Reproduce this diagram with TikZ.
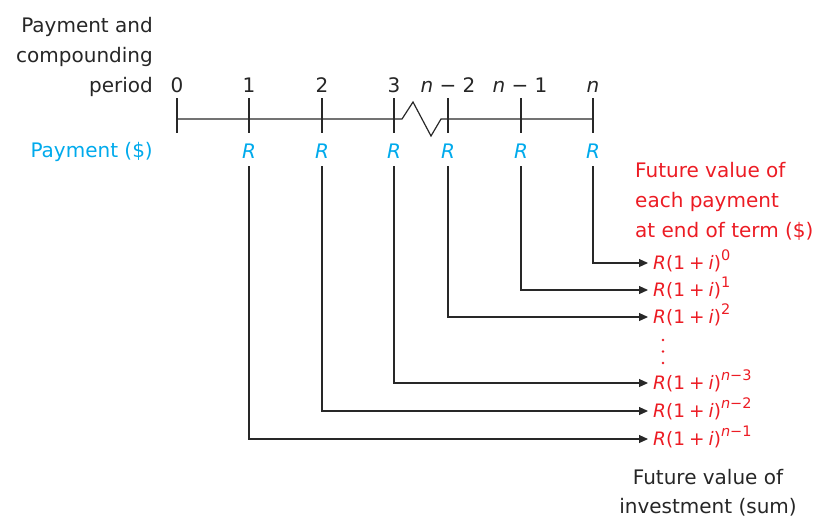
\documentclass[tikz,border=0pt]{standalone}
\usepackage{fontspec}
\setmainfont{DejaVu Sans}
\usetikzlibrary{arrows.meta}
\definecolor{pblue}{RGB}{0,170,236}
\definecolor{fred}{RGB}{236,28,36}
\definecolor{lgray}{RGB}{40,40,40}
\newcommand{\fv}[1]{\textit{R}(1\hspace{0.22em}+\hspace{0.22em}\textit{i})\raisebox{0.5em}{\fontsize{14.5}{14.5}\selectfont #1}}
\begin{document}
\begin{tikzpicture}[x=1pt,y=-1pt,
  txt/.style={font=\fontsize{20}{30}\selectfont, text=black!85, inner sep=0pt},
  num/.style={txt, anchor=base},
  rlab/.style={font=\fontsize{20}{30}\selectfont\itshape, text=pblue, inner sep=0pt, anchor=base},
  fvlab/.style={font=\fontsize{18.5}{30}\selectfont, text=fred, anchor=west, inner xsep=5pt, inner ysep=0pt, text height=14pt, text depth=1pt},
  axis/.style={draw=lgray, line width=1.2pt},
  conn/.style={draw=lgray, line width=1.2pt, -{Triangle[length=9pt,width=8pt]}}
]
\useasboundingbox (0,0) rectangle (816,520);

% timeline coordinates
\coordinate (t0) at (177,119);
\coordinate (t1) at (249,119);
\coordinate (t2) at (322,119);
\coordinate (t3) at (394,119);
\coordinate (tm2) at (448,119);
\coordinate (tm1) at (521,119);
\coordinate (tn) at (593,119);
\coordinate (z1) at (402,119);
\coordinate (z2) at (413,102);
\coordinate (z3) at (431,136);
\coordinate (z4) at (441,119);

\draw[axis] (t0) -- (t3) -- (z1) -- (z2) -- (z3) -- (z4) -- (tm2) -- (tn);
\foreach \t in {t0,t1,t2,t3,tm2,tm1,tn}
  \draw[axis] ([yshift=21pt]\t) -- ([yshift=-14pt]\t);

% period labels
\node[num] (n0) at (177,92) {0};
\node[num] (n1) at (249,92) {1};
\node[num] (n2) at (322,92) {2};
\node[num] (n3) at (394,92) {3};
\node[num] (nm2) at (448,92) {\textit{n} − 2};
\node[num] (nm1) at (520,92) {\textit{n} − 1};
\node[num] (nn) at (593,92) {\textit{n}};

\node[txt, anchor=base east] (hd1) at (153,32) {Payment and};
\node[txt, anchor=base east] (hd2) at (153,62) {compounding};
\node[txt, anchor=base east] (hd3) at (153,92) {period};
\node[txt, anchor=base east, text=pblue] (pay) at (153,157) {Payment (\$)};

% R labels
\node[rlab] (r1) at (249,158) {R};
\node[rlab] (r2) at (322,158) {R};
\node[rlab] (r3) at (394,158) {R};
\node[rlab] (rm2) at (448,158) {R};
\node[rlab] (rm1) at (521,158) {R};
\node[rlab] (rn) at (593,158) {R};

% future value labels
\node[txt, text=fred, anchor=base west] (fh1) at (635,177) {Future value of};
\node[txt, text=fred, anchor=base west] (fh2) at (635,207) {each payment};
\node[txt, text=fred, anchor=base west] (fh3) at (635,237) {at end of term (\$)};
\node[fvlab] (f0) at (648,263) {\fv{0}};
\node[fvlab] (f1) at (648,290) {\fv{1}};
\node[fvlab] (f2) at (648,317) {\fv{2}};
\node[fvlab] (f3) at (648,383) {\fv{\textit{n}−3}};
\node[fvlab] (f4) at (648,411) {\fv{\textit{n}−2}};
\node[fvlab] (f5) at (648,439) {\fv{\textit{n}−1}};
\foreach \yy in {340,351.5,363}
  \fill[fred] (663,\yy) circle (1.3pt);

\node[txt, anchor=base] (s1) at (708,484) {Future value of};
\node[txt, anchor=base] (s2) at (708,513) {investment (sum)};

% connectors
\draw[conn] ([yshift=-8pt]rn.south) |- (f0.west);
\draw[conn] ([yshift=-8pt]rm1.south) |- (f1.west);
\draw[conn] ([yshift=-8pt]rm2.south) |- (f2.west);
\draw[conn] ([yshift=-8pt]r3.south) |- (f3.west);
\draw[conn] ([yshift=-8pt]r2.south) |- (f4.west);
\draw[conn] ([yshift=-8pt]r1.south) |- (f5.west);
\end{tikzpicture}
\end{document}
